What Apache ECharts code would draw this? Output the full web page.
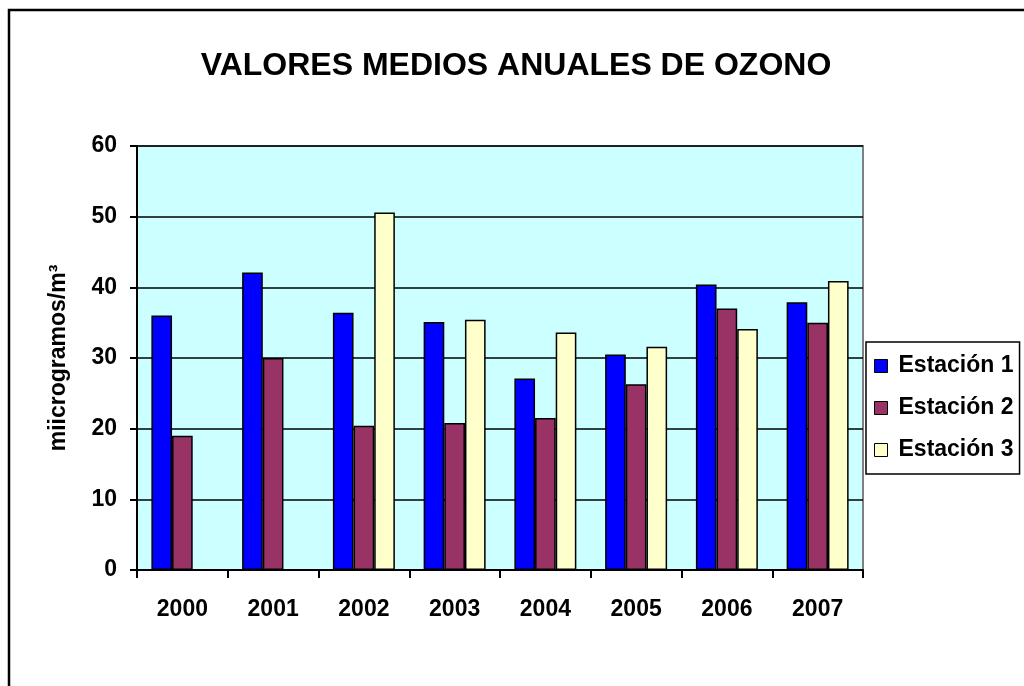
<!DOCTYPE html>
<html>
<head>
<meta charset="utf-8">
<script src="https://cdn.jsdelivr.net/npm/echarts@6/dist/echarts.min.js"></script>
<style>
  html, body { margin: 0; padding: 0; background: #fff; }
  #chartDiv { width: 1024px; height: 686px; }
</style>
</head>
<body>
<div id="chartDiv"></div>
<script type="text/javascript">
  // years on the x axis
  var years = ['2000', '2001', '2002', '2003', '2004', '2005', '2006', '2007'];
  var seriesNames = ['Estación 1', 'Estación 2', 'Estación 3'];
  // annual means (no value for station 3 in 2000 and 2001)
  var estacion1 = [36, 42.1, 36.4, 35.1, 27.1, 30.5, 40.4, 37.9];
  var estacion2 = [19, 30, 20.4, 20.8, 21.5, 26.3, 37, 35];
  var estacion3 = [null, null, 50.6, 35.4, 33.6, 31.6, 34.1, 40.9];
  var barColors = ['#0000FF', '#993366', '#FFFFCC'];

  var fontFam = 'Arial, "Liberation Sans", sans-serif';

  function makeBar(name, values, color) {
    return {
      name: name,
      type: 'bar',
      data: values,
      barGap: '0%',
      barCategoryGap: '31.7%',
      itemStyle: {
        color: color,
        borderColor: '#000',
        borderWidth: 1.5
      },
      emphasis: { disabled: true }
    };
  }

  var myChart = echarts.init(document.getElementById('chartDiv'), null, { renderer: 'canvas' });

  var option = {
    animation: false,
    textStyle: { fontFamily: fontFam },
    title: {
      text: 'VALORES MEDIOS ANUALES DE OZONO',
      left: 516,
      textAlign: 'center',
      top: 50,
      padding: 0,
      textStyle: { fontFamily: fontFam, fontSize: 32, fontWeight: 'bold', color: '#000' }
    },
    grid: {
      left: 137,
      right: 161,
      top: 146,
      bottom: 116,
      show: true,
      backgroundColor: '#CCFFFF',
      borderColor: '#808080',
      borderWidth: 2
    },
    legend: {
      orient: 'vertical',
      left: 866,
      top: 342,
      padding: [12, 6, 12, 8],
      itemGap: 18,
      itemWidth: 13,
      itemHeight: 13,
      icon: 'rect',
      borderColor: '#000',
      borderWidth: 1.5,
      backgroundColor: '#fff',
      data: seriesNames,
      itemStyle: { borderColor: '#000', borderWidth: 1 },
      textStyle: { fontFamily: fontFam, fontSize: 23, lineHeight: 24, fontWeight: 'bold', color: '#000', padding: [0, 0, 0, 6] }
    },
    xAxis: {
      type: 'category',
      data: years,
      boundaryGap: true,
      axisLine: { lineStyle: { color: '#000', width: 2 } },
      axisTick: { show: true, length: 8, inside: false, lineStyle: { color: '#000', width: 2 } },
      axisLabel: { margin: 28, fontFamily: fontFam, fontSize: 23, fontWeight: 'bold', color: '#000' },
      splitLine: { show: false }
    },
    yAxis: {
      type: 'value',
      min: 0,
      max: 60,
      interval: 10,
      name: 'miicrogramos/m³',
      nameLocation: 'middle',
      nameGap: 67,
      nameTextStyle: { fontFamily: fontFam, fontSize: 23, fontWeight: 'bold', color: '#000' },
      axisLine: { show: true, lineStyle: { color: '#000', width: 2 } },
      axisTick: { show: true, length: 7, inside: false, lineStyle: { color: '#000', width: 2 } },
      axisLabel: { margin: 20, fontFamily: fontFam, fontSize: 23, fontWeight: 'bold', color: '#000' },
      splitLine: { show: true, lineStyle: { color: '#000', width: 1.5 } }
    },
    graphic: {
      elements: [
        {
          type: 'rect',
          shape: { x: 9, y: 10, width: 1100, height: 1000 },
          style: { fill: 'none', stroke: '#000', lineWidth: 2.5 },
          silent: true,
          z: 100
        }
      ]
    },
    series: [
      makeBar(seriesNames[0], estacion1, barColors[0]),
      makeBar(seriesNames[1], estacion2, barColors[1]),
      makeBar(seriesNames[2], estacion3, barColors[2])
    ]
  };
  myChart.setOption(option);
</script>
</body>
</html>
